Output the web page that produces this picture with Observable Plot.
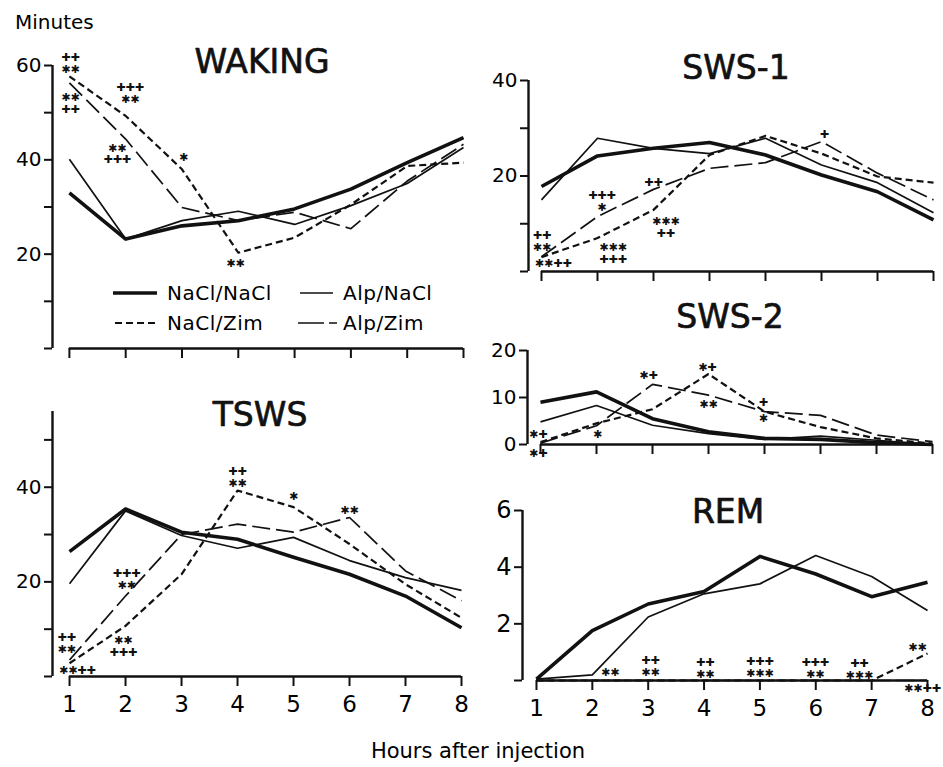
<!DOCTYPE html>
<html>
<head>
<meta charset="utf-8">
<script src="https://cdn.jsdelivr.net/npm/d3@7"></script>
<script src="https://cdn.jsdelivr.net/npm/@observablehq/plot@0.6"></script>
<style>
  html, body { margin: 0; padding: 0; background: #fff; }
  #root { position: relative; width: 943px; height: 767px; overflow: hidden; font-family: "DejaVu Sans", sans-serif; color: #000; }
  #root svg { position: absolute; left: 0; top: 0; }
  .lbl { position: absolute; font-family: "DejaVu Sans", sans-serif; color: #000; white-space: nowrap; }
</style>
</head>
<body>
<div id="root"></div>
<script>
// ---------------- data ----------------
const hours = [1, 2, 3, 4, 5, 6, 7, 8];
const seriesNames = ["NaCl/NaCl", "Alp/NaCl", "NaCl/Zim", "Alp/Zim"];

// WAKING (minutes)
const wakingNaClNaCl = [33.0, 23.2, 26.0, 27.1, 29.6, 33.8, 39.4, 44.7];
const wakingAlpNaCl  = [40.1, 23.2, 27.1, 29.1, 26.3, 30.3, 35.0, 42.6];
const wakingNaClZim  = [57.7, 49.3, 38.0, 20.3, 23.5, 30.5, 38.7, 39.4];
const wakingAlpZim   = [56.3, 44.4, 29.9, 27.1, 28.9, 25.4, 35.5, 43.3];

// SWS-1
const sws1NaClNaCl = [17.8, 24.2, 25.8, 27.0, 24.4, 20.2, 16.7, 10.8];
const sws1AlpNaCl  = [15.0, 27.9, 25.8, 24.7, 27.9, 22.3, 18.6, 12.3];
const sws1NaClZim  = [3.0, 7.0, 12.9, 24.4, 28.4, 24.7, 19.9, 18.6];
const sws1AlpZim   = [3.1, 11.5, 17.2, 21.6, 22.8, 27.2, 20.6, 15.0];

// SWS-2
const sws2NaClNaCl = [9.0, 11.2, 5.5, 2.7, 1.3, 1.1, 0.4, 0.0];
const sws2AlpNaCl  = [4.8, 8.3, 4.1, 2.3, 1.1, 1.8, 0.9, 0.0];
const sws2NaClZim  = [0.5, 4.5, 7.5, 15.0, 7.0, 3.7, 1.3, 0.2];
const sws2AlpZim   = [0.3, 4.0, 12.8, 10.5, 7.0, 6.2, 2.0, 0.6];

// TSWS
const tswsNaClNaCl = [26.4, 35.4, 30.5, 29.0, 25.2, 21.6, 17.0, 10.3];
const tswsAlpNaCl  = [19.6, 35.0, 29.8, 27.1, 29.4, 24.5, 20.9, 18.2];
const tswsNaClZim  = [2.8, 10.7, 21.6, 39.3, 35.8, 28.0, 19.5, 12.4];
const tswsAlpZim   = [3.5, 17.0, 30.0, 32.2, 30.5, 33.6, 22.3, 16.0];

// REM
const remNaClNaCl = [0.05, 1.76, 2.70, 3.14, 4.38, 3.76, 2.96, 3.47];
const remAlpNaCl  = [0.05, 0.20, 2.24, 3.06, 3.41, 4.41, 3.67, 2.47];
const remNaClZim  = [0, 0, 0, 0, 0, 0, 0, 0.95];
const remAlpZim   = [0, 0, 0, 0, 0, 0, 0, 0];

// y-axis ticks and labelled ticks
const wakingTicks = [0, 10, 20, 30, 40, 50, 60], wakingTickLabels = [20, 40, 60];
const sws1Ticks = [0, 10, 20, 30, 40],           sws1TickLabels = [20, 40];
const sws2Ticks = [0, 10, 20],                   sws2TickLabels = [0, 10, 20];
const tswsTicks = [0, 10, 20, 30, 40, 50],       tswsTickLabels = [20, 40];
const remTicks = [0, 2, 4, 6],                   remTickLabels = [2, 4, 6];

// significance marks (* and +), placed at (hour, minutes); "\n" separates stacked rows
const wakingNotes = [
  {hour: 1.02, value: 60.5, mark: "++\n**"},
  {hour: 1.02, value: 52.0, mark: "**\n++"},
  {hour: 2.08, value: 54.1, mark: "+++\n**"},
  {hour: 1.85, value: 41.3, mark: "**\n+++"},
  {hour: 3.03, value: 40.5, mark: "*"},
  {hour: 3.95, value: 18.0, mark: "**"}
];
const sws1Notes = [
  {hour: 1.01, value: 6.4, mark: "++\n**"},
  {hour: 1.21, value: 1.7, mark: "**++"},
  {hour: 2.08, value: 14.8, mark: "+++\n*"},
  {hour: 2.28, value: 3.8, mark: "***\n+++"},
  {hour: 3.0, value: 18.6, mark: "++"},
  {hour: 3.22, value: 9.3, mark: "***\n++"},
  {hour: 6.05, value: 28.7, mark: "+"}
];
const sws2Notes = [
  {hour: 0.96, value: 2.3, mark: "*+"}, {hour: 0.96, value: -1.9, mark: "*+"},
  {hour: 2.02, value: 2.3, mark: "*"},
  {hour: 2.93, value: 14.7, mark: "*+"},
  {hour: 3.98, value: 16.4, mark: "*+"}, {hour: 4.0, value: 8.5, mark: "**"},
  {hour: 4.98, value: 9.1, mark: "+"}, {hour: 4.98, value: 5.5, mark: "*"}
];
const tswsNotes = [
  {hour: 4.0, value: 42.2, mark: "++\n**"},
  {hour: 5.0, value: 38.1, mark: "*"},
  {hour: 6.0, value: 35.1, mark: "**"},
  {hour: 2.02, value: 20.6, mark: "+++\n**"},
  {hour: 0.95, value: 7.1, mark: "++\n**"},
  {hour: 1.14, value: 1.3, mark: "**++"},
  {hour: 1.96, value: 6.4, mark: "**\n+++"}
];
const remNotes = [
  {hour: 2.32, value: 0.28, mark: "**"},
  {hour: 3.04, value: 0.49, mark: "++\n**"},
  {hour: 4.02, value: 0.44, mark: "++\n**"},
  {hour: 5.0, value: 0.46, mark: "+++\n***"},
  {hour: 5.99, value: 0.44, mark: "+++\n**"},
  {hour: 6.78, value: 0.39, mark: "++\n***"},
  {hour: 7.82, value: 1.17, mark: "**"},
  {hour: 7.91, value: -0.28, mark: "**++"}
];

// ---------------- layout / styles ----------------
const W = 943, H = 767;
const panels = [
  {title: "WAKING", series: [wakingNaClNaCl, wakingAlpNaCl, wakingNaClZim, wakingAlpZim], notes: wakingNotes,
   ticks: wakingTicks, tickLabels: wakingTickLabels, yTop: 60,
   box: {left: 52, right: 463, top: 65, bottom: 348}, xStart: 0.70, titleDx: 4, titleDy: -3, xLabels: false, yFont: 20},
  {title: "SWS-1", series: [sws1NaClNaCl, sws1AlpNaCl, sws1NaClZim, sws1AlpZim], notes: sws1Notes,
   ticks: sws1Ticks, tickLabels: sws1TickLabels, yTop: 40,
   box: {left: 528, right: 933, top: 80, bottom: 271}, xStart: 0.768, titleDx: 5, titleDy: -12, xLabels: false, yFont: 20},
  {title: "SWS-2", series: [sws2NaClNaCl, sws2AlpNaCl, sws2NaClZim, sws2AlpZim], notes: sws2Notes,
   ticks: sws2Ticks, tickLabels: sws2TickLabels, yTop: 20,
   box: {left: 527, right: 932, top: 350, bottom: 444}, xStart: 0.768, titleDx: 0, titleDy: -33, xLabels: false, yFont: 20},
  {title: "TSWS", series: [tswsNaClNaCl, tswsAlpNaCl, tswsNaClZim, tswsAlpZim], notes: tswsNotes,
   ticks: tswsTicks, tickLabels: tswsTickLabels, yTop: 56,
   box: {left: 52, right: 461, top: 411, bottom: 676}, xStart: 0.696, titleDx: 3, titleDy: 4, xLabels: true, yFont: 20},
  {title: "REM", series: [remNaClNaCl, remAlpNaCl, remNaClZim, remAlpZim], notes: remNotes,
   ticks: remTicks, tickLabels: remTickLabels, yTop: 6,
   box: {left: 522, right: 927, top: 510, bottom: 680}, xStart: 0.75, titleDx: 3, titleDy: 2, xLabels: true, yFont: 24}
];

const seriesStyle = {
  "NaCl/NaCl": {strokeWidth: 3.6, dash: null},
  "Alp/NaCl":  {strokeWidth: 1.7, dash: null},
  "NaCl/Zim":  {strokeWidth: 2.2, dash: "7,4"},
  "Alp/Zim":   {strokeWidth: 1.7, dash: "18,6"}
};
const drawOrder = ["Alp/Zim", "NaCl/Zim", "Alp/NaCl", "NaCl/NaCl"];
const INK = "#111";
const symbolize = s => s.replace(/\*/g, "\u2731").replace(/\+/g, "\u271A");

const root = document.getElementById("root");

for (const p of panels) {
  const rows = [];
  p.series.forEach((vals, si) => {
    hours.forEach((h, i) => rows.push({hour: h, value: vals[i], series: seriesNames[si]}));
  });
  const lineMarks = drawOrder.map(name => {
    const st = seriesStyle[name];
    return Plot.line(rows.filter(r => r.series === name), {
      x: "hour", y: "value", stroke: INK, strokeWidth: st.strokeWidth,
      strokeDasharray: st.dash || undefined, strokeLinejoin: "round", strokeLinecap: "butt"
    });
  });
  const svg = Plot.plot({
    width: W, height: H,
    marginLeft: p.box.left, marginRight: W - p.box.right,
    marginTop: p.box.top, marginBottom: H - p.box.bottom,
    x: {domain: [p.xStart, 8], axis: null, label: null},
    y: {domain: [0, p.yTop], axis: null, label: null},
    style: {background: "transparent", overflow: "visible", fontFamily: "DejaVu Sans, sans-serif", color: "#000", maxWidth: "none"},
    marks: [
      // y axis line
      Plot.ruleX([p.xStart], {y1: 0, y2: p.yTop, stroke: INK, strokeWidth: 2.4}),
      Plot.axisY({ticks: p.ticks, tickSize: 8, tickPadding: 3, strokeWidth: 2, stroke: INK,
        fontSize: p.yFont, label: null,
        tickFormat: d => p.tickLabels.includes(d) ? String(d) : ""}),
      // x axis line
      Plot.ruleY([0], {x1: hours[0], x2: hours[hours.length - 1], stroke: INK, strokeWidth: 2.4}),
      Plot.axisX({ticks: hours, tickSize: 10, tickPadding: 9, strokeWidth: 2, stroke: INK,
        fontSize: 23, label: null,
        tickFormat: d => p.xLabels ? String(d) : ""}),
      ...lineMarks,
      Plot.text(p.notes, {x: "hour", y: "value", text: d => symbolize(d.mark),
        fontSize: 11, lineHeight: 1.08, fill: INK, textAnchor: "middle", lineAnchor: "middle"}),
      Plot.text([p.title], {frameAnchor: "top", dx: p.titleDx, dy: p.titleDy, text: d => d,
        fontSize: 33, fill: INK, stroke: INK, strokeWidth: 0.7, lineAnchor: "middle"})
    ]
  });
  root.appendChild(svg);
}

// axis titles
const minutes = document.createElement("div");
minutes.className = "lbl";
minutes.style.cssText = "left:15px; top:10px; font-size:20px;";
minutes.textContent = "Minutes";
root.appendChild(minutes);

const xTitle = document.createElement("div");
xTitle.className = "lbl";
xTitle.style.cssText = "left:0; width:956px; text-align:center; top:739px; font-size:21px;";
xTitle.textContent = "Hours after injection";
root.appendChild(xTitle);

// legend (inside WAKING panel)
const legendItems = [
  {name: "NaCl/NaCl", x1: 113, x2: 157, tx: 167, y: 293},
  {name: "Alp/NaCl",  x1: 300, x2: 333, tx: 343, y: 293},
  {name: "NaCl/Zim",  x1: 115, x2: 155, tx: 167, y: 323},
  {name: "Alp/Zim",   x1: 298, x2: 337, tx: 343, y: 323}
];
const ns = "http://www.w3.org/2000/svg";
const leg = document.createElementNS(ns, "svg");
leg.setAttribute("width", W); leg.setAttribute("height", H);
leg.style.cssText = "position:absolute;left:0;top:0;overflow:visible";
for (const it of legendItems) {
  const st = seriesStyle[it.name];
  const ln = document.createElementNS(ns, "line");
  ln.setAttribute("x1", it.x1); ln.setAttribute("x2", it.x2);
  ln.setAttribute("y1", it.y); ln.setAttribute("y2", it.y);
  ln.setAttribute("stroke", INK); ln.setAttribute("stroke-width", st.strokeWidth);
  if (st.dash) ln.setAttribute("stroke-dasharray", it.name === "Alp/Zim" ? "26,5" : st.dash);
  leg.appendChild(ln);
  const tx = document.createElementNS(ns, "text");
  tx.setAttribute("x", it.tx); tx.setAttribute("y", it.y);
  tx.setAttribute("dy", "0.36em");
  tx.setAttribute("font-size", 20);
  tx.setAttribute("letter-spacing", "0.5");
  tx.setAttribute("font-family", "DejaVu Sans, sans-serif");
  tx.setAttribute("fill", "#000");
  tx.textContent = it.name;
  leg.appendChild(tx);
}
root.appendChild(leg);
</script>
</body>
</html>
